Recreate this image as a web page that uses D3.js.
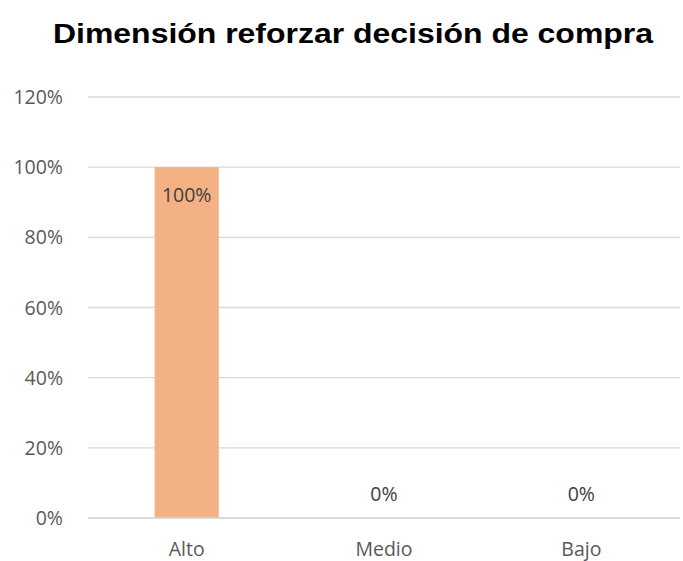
<!DOCTYPE html>
<html>
<head>
<meta charset="utf-8">
<script src="https://cdn.jsdelivr.net/npm/d3@7"></script>
<style>
  body { margin: 0; background: #fff; }
  svg text { font-family: "Open Sans", "Noto Sans", sans-serif; fill: #595959; }
  svg text.title { font-family: "Liberation Sans", Arial, sans-serif; font-weight: bold; fill: #000; }
</style>
</head>
<body>
<svg width="683" height="561"></svg>
<script>
const categories = ["Alto", "Medio", "Bajo"];
const values = [1.0, 0, 0];
const yTicks = [0, 0.2, 0.4, 0.6, 0.8, 1.0, 1.2];

const svg = d3.select("svg"),
  width = +svg.attr("width"),
  height = +svg.attr("height");

const margin = {top: 97, right: 3, bottom: 43, left: 88};

const x = d3.scaleBand()
  .domain(categories)
  .range([margin.left, width - margin.right])
  .paddingInner(0.675)
  .paddingOuter(0.3375);

const y = d3.scaleLinear()
  .domain([0, 1.2])
  .range([height - margin.bottom, margin.top]);

const pct = d3.format(".0%");

svg.append("text")
  .attr("class", "title")
  .attr("x", 353)
  .attr("y", 43)
  .attr("text-anchor", "middle")
  .attr("textLength", 600)
  .attr("lengthAdjust", "spacingAndGlyphs")
  .style("font-size", "28.5px")
  .text("Dimensión reforzar decisión de compra");

// gridlines
svg.append("g")
  .selectAll("line")
  .data(yTicks)
  .enter().append("line")
  .attr("x1", margin.left)
  .attr("x2", width - margin.right)
  .attr("y1", d => y(d))
  .attr("y2", d => y(d))
  .attr("stroke", "#d9d9d9")
  .attr("stroke-width", 1.3);

// y axis labels
svg.append("g")
  .selectAll("text")
  .data(yTicks)
  .enter().append("text")
  .attr("x", 63)
  .attr("y", d => y(d))
  .attr("dy", "0.36em")
  .attr("text-anchor", "end")
  .style("font-size", "19.5px")
  .text(d => pct(d));

// bars
svg.append("g")
  .selectAll("rect")
  .data(values)
  .enter().append("rect")
  .attr("x", (d, i) => x(categories[i]))
  .attr("width", x.bandwidth())
  .attr("y", d => y(d))
  .attr("height", d => y(0) - y(d))
  .attr("fill", "#F4B183");

// data labels
svg.append("g")
  .selectAll("text")
  .data(values)
  .enter().append("text")
  .attr("x", (d, i) => x(categories[i]) + x.bandwidth() / 2)
  .attr("y", d => d > 0.1 ? y(d) + 28 : y(d) - 24)
  .attr("dy", "0.36em")
  .attr("text-anchor", "middle")
  .style("font-size", "19.5px")
  .style("fill", "#404040")
  .text(d => pct(d));

// x axis line
svg.append("line")
  .attr("x1", margin.left)
  .attr("x2", width - margin.right)
  .attr("y1", y(0))
  .attr("y2", y(0))
  .attr("stroke", "#d9d9d9")
  .attr("stroke-width", 1.3);

// category labels
svg.append("g")
  .selectAll("text")
  .data(categories)
  .enter().append("text")
  .attr("x", d => x(d) + x.bandwidth() / 2)
  .attr("y", y(0) + 31)
  .attr("dy", "0.36em")
  .attr("text-anchor", "middle")
  .style("font-size", "19.5px")
  .text(d => d);
</script>
</body>
</html>
